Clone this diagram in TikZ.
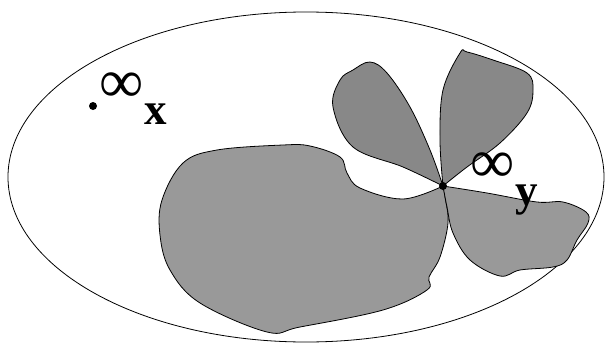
\documentclass[tikz,border=0pt]{standalone}
\usepackage{fontspec}
\setmainfont{Liberation Serif}
\definecolor{lightpetal}{HTML}{999999}
\definecolor{darkpetal}{HTML}{888888}
\tikzset{
  blob/.style={draw=black, line width=0.8pt, fill=lightpetal},
  darkblob/.style={draw=black, line width=0.8pt, fill=darkpetal},
  biglabel/.style={inner sep=0pt, font=\fontsize{45}{45}\selectfont\bfseries},
  inflabel/.style={inner sep=0pt, font=\fontsize{62}{62}\selectfont},
  dotpt/.style={circle, fill=black, inner sep=0pt, minimum size=8pt}
}
\begin{document}
\begin{tikzpicture}[x=1pt,y=-1pt]
\useasboundingbox (0,0) rectangle (605,348);
\fill[white] (0,0) rectangle (605,348);
\draw[line width=0.8pt] (306,177) ellipse [x radius=298, y radius=165];
% big blob
\coordinate (p) at (443,186);
\draw[blob] plot[smooth, tension=0.6] coordinates {(443,186) (403,199) (360,188) (347,173) (340,157) (310,146) (283,145) (217,150) (183,163) (162,200) (160,235) (170,270) (200,303) (267,332) (300,327) (383,310) (427,290) (429,277) (440,257) (448,223) (445,197) (443,186)} -- cycle;
% bottom right petal
\draw[blob] plot[smooth, tension=0.6] coordinates {(443,186) (487,193) (537,202) (563,202) (586,212) (588,223) (577,240) (567,260) (553,267) (520,270) (500,276) (470,260) (453,233) (447,207) (443,186)} -- cycle;
% top-left petal
\draw[darkblob] plot[smooth, tension=0.6] coordinates {(443,186) (403,167) (353,147) (333,107) (340,80) (353,70) (370,62) (387,73) (410,107) (430,150) (443,186)} -- cycle;
% top-right petal
\draw[darkblob] plot[smooth, tension=0.6] coordinates {(443,186) (440,140) (443,90) (460,53) (467,52) (493,60) (527,73) (533,90) (527,113) (500,143) (467,167) (443,186)} -- cycle;
\node[dotpt] (ydot) at (p) {};
\node[dotpt] (xdot) at (93,106) {};
\node[inflabel] (xinf) at (122,88) {∞};
\node[biglabel, anchor=base] (xlab) at (156,124) {x};
\node[inflabel] (yinf) at (493,168) {∞};
\node[biglabel, anchor=base] (ylab) at (527,205) {y};
\end{tikzpicture}
\end{document}
